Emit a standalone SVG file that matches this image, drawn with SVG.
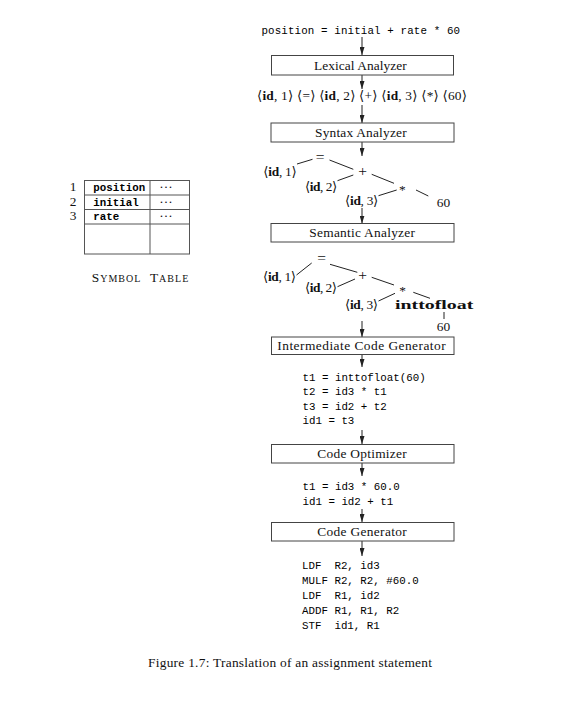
<svg xmlns="http://www.w3.org/2000/svg" width="579" height="710" viewBox="0 0 579 710">
<style>
.serif{font-family:"Liberation Serif","DejaVu Serif",serif;font-size:13.4px;fill:#111}
.op{font-size:15.5px}
.mono{font-family:"Liberation Mono","DejaVu Sans Mono",monospace;font-size:10.8px;fill:#000}
.b{font-weight:bold}
.box{fill:#fff;stroke:#444;stroke-width:1}
.arr{stroke:#222;stroke-width:1;fill:none;marker-end:url(#ah)}
.edge{stroke:#222;stroke-width:1;fill:none}
.tbl{stroke:#555;stroke-width:1;fill:none}
.mid{text-anchor:middle}
</style>
<defs>
<marker id="ah" viewBox="0 0 8 5" refX="8" refY="2.5" markerWidth="8" markerHeight="5" markerUnits="userSpaceOnUse" orient="auto">
<path d="M0,0 L8,2.5 L0,5 z" fill="#222"/>
</marker>
</defs>
<rect width="579" height="710" fill="#fff"/>

<g id="connectors">
<line class="arr" x1="362" y1="37" x2="362" y2="55"/>
<line class="arr" x1="362" y1="75" x2="362" y2="89"/>
<line class="arr" x1="362" y1="105" x2="362" y2="123"/>
<line class="arr" x1="362" y1="142" x2="362" y2="156"/>
<line class="arr" x1="362" y1="208" x2="362" y2="223.5"/>
<line class="arr" x1="362" y1="321" x2="362" y2="337"/>
<line class="arr" x1="362" y1="355" x2="362" y2="367"/>
<line class="arr" x1="362" y1="430" x2="362" y2="444"/>
<line class="arr" x1="362" y1="463" x2="362" y2="476"/>
<line class="arr" x1="362" y1="509" x2="362" y2="522"/>
<line class="arr" x1="362" y1="541" x2="362" y2="556"/>
<g id="tree1-edges">
<line class="edge" x1="297" y1="164" x2="312.5" y2="159.3"/>
<line class="edge" x1="329.5" y1="160" x2="353.3" y2="169.3"/>
<line class="edge" x1="337.5" y1="180.7" x2="353.3" y2="175"/>
<line class="edge" x1="371.7" y1="174.3" x2="394" y2="183.3"/>
<line class="edge" x1="378.5" y1="195.7" x2="396.7" y2="190"/>
<line class="edge" x1="416" y1="190" x2="428.3" y2="196"/>
</g>
<g id="tree2-edges">
<line class="edge" x1="296.5" y1="275" x2="311.7" y2="263"/>
<line class="edge" x1="330" y1="264.3" x2="357.3" y2="272.3"/>
<line class="edge" x1="337.5" y1="286.7" x2="355" y2="279"/>
<line class="edge" x1="371.7" y1="277.3" x2="394" y2="285"/>
<line class="edge" x1="378.5" y1="301" x2="395" y2="293.3"/>
<line class="edge" x1="413.3" y1="292.3" x2="430" y2="298.3"/>
<line class="edge" x1="444" y1="312" x2="444" y2="319"/>
</g>
</g>

<g id="source">
<text class="mono" x="261.5" y="33.5" xml:space="preserve" textLength="198.5">position = initial + rate * 60</text>
</g>

<g id="lexical-analyzer">
<rect class="box" x="271.5" y="55.5" width="182" height="19.5"/>
<text class="serif" x="314" y="69.5" textLength="92.7">Lexical Analyzer</text>
</g>

<g id="tokens">
<text class="serif" x="257" y="99.5" textLength="210">⟨<tspan class="b">id</tspan>, 1⟩ ⟨=⟩ ⟨<tspan class="b">id</tspan>, 2⟩ ⟨+⟩ ⟨<tspan class="b">id</tspan>, 3⟩ ⟨*⟩ ⟨60⟩</text>
</g>

<g id="syntax-analyzer">
<rect class="box" x="271" y="123" width="183" height="19"/>
<text class="serif" x="315" y="136.5" textLength="91.7">Syntax Analyzer</text>
</g>

<g id="syntax-tree">
<text class="serif op mid" x="320" y="161.5">=</text>
<text class="serif" x="263.3" y="176" textLength="33.4">⟨<tspan class="b">id</tspan>, 1⟩</text>
<text class="serif op mid" x="362.7" y="176">+</text>
<text class="serif" x="305" y="190.5" textLength="32.3">⟨<tspan class="b">id</tspan>, 2⟩</text>
<text class="serif mid" x="402.3" y="194">*</text>
<text class="serif" x="345" y="205" textLength="33.3">⟨<tspan class="b">id</tspan>, 3⟩</text>
<text class="serif mid" x="443.5" y="206.5">60</text>
</g>

<g id="semantic-analyzer">
<rect class="box" x="271" y="223.5" width="183" height="18.5"/>
<text class="serif" x="309.3" y="237" textLength="105.7">Semantic Analyzer</text>
</g>

<g id="semantic-tree">
<text class="serif op mid" x="321.7" y="262.5">=</text>
<text class="serif" x="263" y="280.5" textLength="33">⟨<tspan class="b">id</tspan>, 1⟩</text>
<text class="serif op mid" x="362.7" y="279.5">+</text>
<text class="serif" x="305" y="292" textLength="32">⟨<tspan class="b">id</tspan>, 2⟩</text>
<text class="serif mid" x="402.7" y="294.5">*</text>
<text class="serif" x="345" y="309" textLength="33">⟨<tspan class="b">id</tspan>, 3⟩</text>
<text class="serif b" x="395" y="309" font-size="12.8" textLength="78.3" lengthAdjust="spacingAndGlyphs">inttofloat</text>
<text class="serif mid" x="443.5" y="330.5">60</text>
</g>

<g id="intermediate-code-generator">
<rect class="box" x="271.5" y="337" width="182.5" height="17.5"/>
<text class="serif" x="277.3" y="350" textLength="168.4">Intermediate Code Generator</text>
</g>

<g id="intermediate-code">
<text class="mono" x="302.5" y="380.5">t1 = inttofloat(60)</text>
<text class="mono" x="302.5" y="395">t2 = id3 * t1</text>
<text class="mono" x="302.5" y="409.5">t3 = id2 + t2</text>
<text class="mono" x="302.5" y="424">id1 = t3</text>
</g>

<g id="code-optimizer">
<rect class="box" x="271.5" y="444.5" width="182.5" height="18.5"/>
<text class="serif" x="317.3" y="458" textLength="89.4">Code Optimizer</text>
</g>

<g id="optimized-code">
<text class="mono" x="302.5" y="489.5">t1 = id3 * 60.0</text>
<text class="mono" x="302.5" y="504.5">id1 = id2 + t1</text>
</g>

<g id="code-generator">
<rect class="box" x="271.5" y="522.5" width="182.5" height="18.5"/>
<text class="serif" x="317.3" y="536" textLength="89.4">Code Generator</text>
</g>

<g id="target-code">
<text class="mono" x="302" y="569" xml:space="preserve">LDF  R2, id3</text>
<text class="mono" x="302" y="584" xml:space="preserve">MULF R2, R2, #60.0</text>
<text class="mono" x="302" y="599" xml:space="preserve">LDF  R1, id2</text>
<text class="mono" x="302" y="614" xml:space="preserve">ADDF R1, R1, R2</text>
<text class="mono" x="302" y="629" xml:space="preserve">STF  id1, R1</text>
</g>

<g id="symbol-table">
<rect class="tbl" x="84.5" y="180.5" width="105" height="73.5"/>
<line class="tbl" x1="150" y1="180.5" x2="150" y2="254"/>
<line class="tbl" x1="84.5" y1="195" x2="189.5" y2="195"/>
<line class="tbl" x1="84.5" y1="209.5" x2="189.5" y2="209.5"/>
<line class="tbl" x1="84.5" y1="224" x2="189.5" y2="224"/>
<text class="serif mid" x="73" y="191">1</text>
<text class="serif mid" x="73" y="205.5">2</text>
<text class="serif mid" x="73" y="220">3</text>
<text class="mono b" x="93.3" y="191">position</text>
<text class="mono b" x="93.3" y="205.5">initial</text>
<text class="mono b" x="93.3" y="220">rate</text>
<text class="serif mid" x="166" y="191" font-size="9">···</text>
<text class="serif mid" x="166" y="205.5" font-size="9">···</text>
<text class="serif mid" x="166" y="220" font-size="9">···</text>
<text class="serif" x="91.7" y="281.5" textLength="96.6" xml:space="preserve">S<tspan font-size="10">YMBOL</tspan>  T<tspan font-size="10">ABLE</tspan></text>
</g>

<g id="caption">
<text class="serif" x="148" y="667" font-size="15.5" textLength="284">Figure 1.7: Translation of an assignment statement</text>
</g>
</svg>
